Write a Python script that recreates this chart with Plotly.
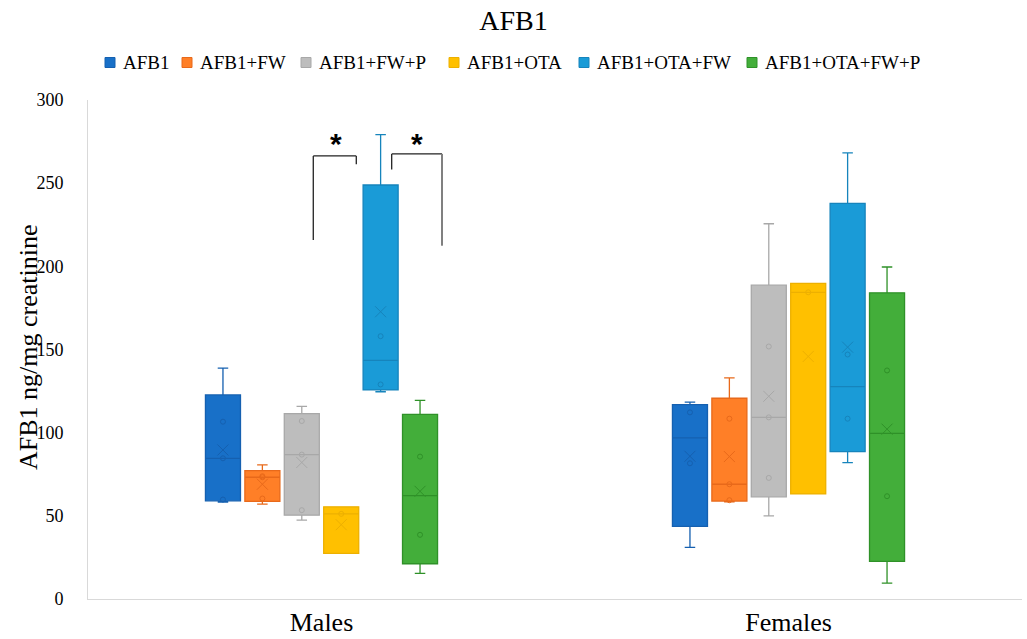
import numpy as np
import plotly.graph_objects as go

groups = ["Males", "Females"]
series = ["AFB1", "AFB1+FW", "AFB1+FW+P", "AFB1+OTA", "AFB1+OTA+FW", "AFB1+OTA+FW+P"]

# raw values (ng/mg creatinine)
males_vals = [
    [58.2, 59.8, 84.6, 106.6, 138.8],
    [57.0, 60.4, 73.2, 73.8, 80.6],
    [47.4, 53.4, 86.8, 107.0, 115.8],
    [27.4, 51.2, 55.4],
    [124.6, 129.0, 158.0, 279.2],
    [15.4, 38.6, 85.6, 119.4],
]
females_vals = [
    [31.0, 81.6, 112.2, 118.4],
    [58.4, 59.4, 69.0, 108.4, 133.0],
    [50.0, 72.8, 109.2, 151.8, 225.6],
    [63.2, 184.4, 189.8],
    [82.0, 108.4, 147.0, 268.2],
    [9.6, 61.8, 137.4, 199.6],
]

fills = ["#1870C8", "#FF7F27", "#BDBDBD", "#FFC000", "#1A9BD7", "#43AE3A"]
edges = ["#1560B0", "#E8691A", "#A8A8A8", "#EDB000", "#1684BC", "#2F9128"]

spacing = 0.0844
bw = 0.075
serif = "Liberation Serif, Times New Roman, serif"

# plot-area geometry in pixels (for paper-coordinate helpers)
L, T, W, H = 88, 100, 934, 499
def px(x):
    return (x - L) / W
def py(y):
    return (T + H - y) / H

fig = go.Figure()
for i, name in enumerate(series):
    xs, q1s, meds, q3s, los, his = [], [], [], [], [], []
    ptx, pty, mx, my = [], [], [], []
    for g, vals in enumerate([males_vals[i], females_vals[i]]):
        d = np.sort(np.array(vals))
        q1, med, q3 = np.percentile(d, [25, 50, 75], method="weibull")
        x = g + (i - 2.5) * spacing
        xs.append(x); q1s.append(q1); meds.append(med); q3s.append(q3)
        los.append(d.min()); his.append(d.max())
        for v in d[1:-1]:
            ptx.append(x); pty.append(v)
        mx.append(x); my.append(d.mean())
    fig.add_trace(go.Box(
        x=xs, q1=q1s, median=meds, q3=q3s, lowerfence=los, upperfence=his,
        name=name, width=bw, fillcolor=fills[i],
        line=dict(color=edges[i], width=1.3), whiskerwidth=0.3,
        boxpoints=False, showlegend=False,
    ))
    fig.add_trace(go.Scatter(
        x=ptx, y=pty, mode="markers", showlegend=False,
        marker=dict(symbol="circle-open", size=5, color=edges[i], line=dict(width=1)),
        hoverinfo="skip",
    ))
    fig.add_trace(go.Scatter(
        x=mx, y=my, mode="markers", showlegend=False,
        marker=dict(symbol="x-thin-open", size=11, color=edges[i], line=dict(width=1, color=edges[i])),
        hoverinfo="skip",
    ))

# custom legend (square + label)
leg_x = [105, 182, 301, 449, 579, 747]
leg_y = 62.5
for i, name in enumerate(series):
    x0 = leg_x[i]
    fig.add_shape(type="rect", xref="paper", yref="paper",
                  x0=px(x0), x1=px(x0 + 10), y0=py(leg_y + 5), y1=py(leg_y - 5),
                  fillcolor=fills[i], line=dict(color=edges[i], width=1))
    fig.add_annotation(xref="paper", yref="paper", x=px(x0 + 16), y=py(leg_y),
                       text=name, showarrow=False, xanchor="left", yanchor="middle",
                       font=dict(family=serif, size=19, color="black"))

# significance brackets
br = [
    dict(x0=-0.0176, y0=215.8, x1=-0.0176, y1=266.4, color="#222222", w=1.3),
    dict(x0=-0.0176, y0=266.4, x1=0.0745, y1=266.4, color="#222222", w=1.3),
    dict(x0=0.0745, y0=266.4, x1=0.0745, y1=261.4, color="#222222", w=1.3),
    dict(x0=0.1503, y0=258.2, x1=0.1503, y1=267.6, color="#222222", w=1.3),
    dict(x0=0.1503, y0=267.6, x1=0.258, y1=267.6, color="#222222", w=1.3),
    dict(x0=0.258, y0=267.6, x1=0.258, y1=212.4, color="#808080", w=2),
]
for b in br:
    fig.add_shape(type="line", x0=b["x0"], y0=b["y0"], x1=b["x1"], y1=b["y1"],
                  xref="x", yref="y", line=dict(color=b["color"], width=b["w"]))
for sx in [0.0304, 0.2051]:
    fig.add_annotation(x=sx, y=274, text="<b>*</b>", showarrow=False,
                       font=dict(family="Arial, Liberation Sans, sans-serif", size=30, color="black"))

# y-axis title
fig.add_annotation(x=px(28), y=py(347), xref="paper", yref="paper",
                   text="AFB1 ng/mg creatinine", textangle=-90, showarrow=False,
                   xanchor="center", yanchor="middle",
                   font=dict(family=serif, size=26, color="black"))

fig.update_layout(
    width=1027, height=639,
    paper_bgcolor="white", plot_bgcolor="white",
    margin=dict(l=L, r=1027 - L - W, t=T, b=639 - T - H),
    title=dict(text="AFB1", x=0.5, xanchor="center", y=1 - 20 / 639, yanchor="middle",
               font=dict(family=serif, size=28, color="black")),
    showlegend=False,
    xaxis=dict(range=[-0.5, 1.5], tickvals=[0, 1], ticktext=groups, automargin=False,
               showgrid=False, zeroline=False, showline=True, linecolor="#D9D9D9",
               ticks="", tickfont=dict(family=serif, size=26, color="black")),
    yaxis=dict(range=[0, 300], tickvals=[0, 50, 100, 150, 200, 250, 300], automargin=False,
               showgrid=False, zeroline=False, showline=True, linecolor="#D9D9D9",
               ticks="", ticklabelstandoff=20,
               tickfont=dict(family=serif, size=18, color="black")),
)

fig.write_html("out.html", config={"displayModeBar": False},
               post_script="document.body.style.margin='0';document.body.style.padding='0';")
